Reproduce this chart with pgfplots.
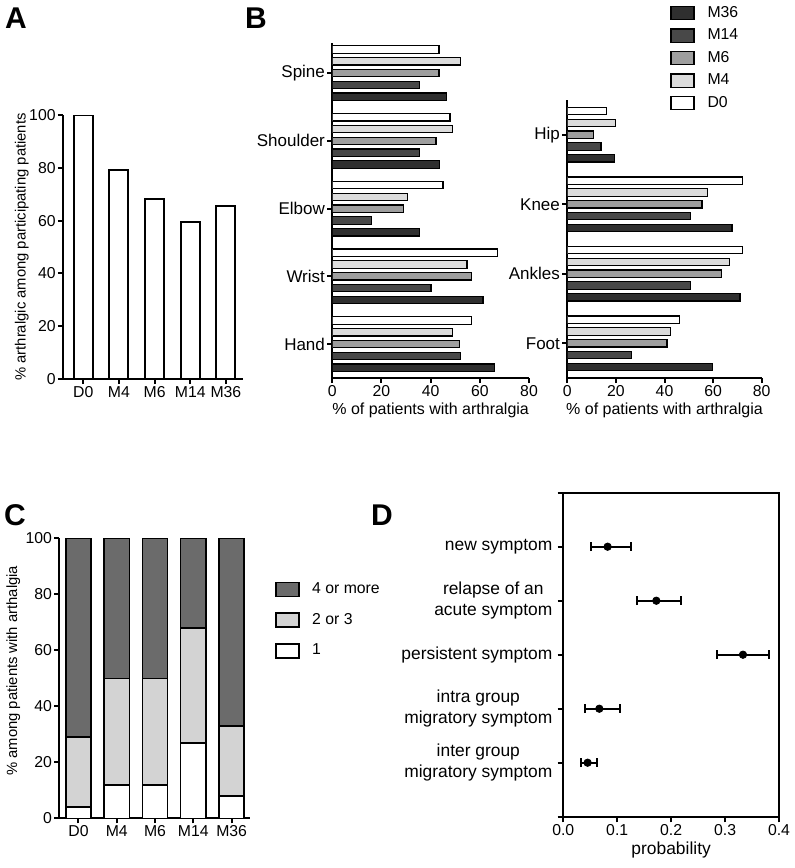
\documentclass[border=0pt]{standalone}
\usepackage{fontspec}
\setmainfont{Liberation Sans}
\usepackage{pgfplots}
\pgfplotsset{compat=1.18}
\definecolor{cM4}{HTML}{DCDCDC}
\definecolor{cM6}{HTML}{9E9E9E}
\definecolor{cM14}{HTML}{484848}
\definecolor{cM36}{HTML}{2F2F2F}
\definecolor{cFour}{HTML}{6B6B6B}
\definecolor{cTwo}{HTML}{D3D3D3}
\newcommand\fTick{\fontsize{7.9}{9}\selectfont}
\newcommand\fCat{\fontsize{8.5}{10}\selectfont}
\newcommand\fBx{\fontsize{8}{10}\selectfont}
\newcommand\fLeg{\fontsize{7.9}{9}\selectfont}
\newcommand\fLab{\fontsize{7.4}{9}\selectfont}
\newcommand\fD{\fontsize{8.7}{10.3}\selectfont}
\newcommand\fLet{\fontsize{15}{17}\selectfont\bfseries}
\pgfplotsset{
  prism/.style={
    scale only axis, anchor=south west,
    /pgf/number format/assume math mode=true,
    axis line style={line width=1pt, black},
    tick style={line width=1pt, black},
    tick align=outside, major tick length=2.5pt,
    ticklabel style={font=\fTick, inner sep=1pt},
    label style={font=\fLab},
  }
}
\begin{document}
\begin{tikzpicture}
\useasboundingbox (0,0) rectangle (397pt,-434pt);
% panel letters
\node[font=\fLet] at (8pt,-9pt) {A};
\node[font=\fLet] at (128pt,-9pt) {B};
\node[font=\fLet] at (7.5pt,-257.5pt) {C};
\node[font=\fLet] at (191pt,-257.5pt) {D};

% ---------- A ----------
\begin{axis}[prism, at={(31.5pt,-189.5pt)}, width=90pt, height=132pt,
  axis lines*=left, ymin=0, ymax=100, xmin=-0.57, xmax=4.48,
  xtick={0,...,4}, xticklabels={D0,M4,M6,M14,M36}, ytick={0,20,...,100},
  ybar, bar width=9.5pt,
  ylabel={\% arthralgic among participating patients},
  ylabel style={at={(axis description cs:-0.229,0.5)}, anchor=center}]
\addplot[fill=white, draw=black, line width=1pt] coordinates {(0,100) (1,79.2) (2,68.1) (3,59.3) (4,65.4)};
\end{axis}

% ---------- B left ----------
\begin{axis}[prism, at={(166.15pt,-189pt)}, width=98.35pt, height=167.65pt,
  axis lines*=left, xmin=0, xmax=80, ymin=-0.5, ymax=4.45,
  xtick={0,20,...,80}, ytick={0,...,4},
  yticklabels={Hand,Wrist,Elbow,Shoulder,Spine},
  yticklabel style={font=\fCat},
  xbar, bar width=3.7pt,
  xlabel={\% of patients with arthralgia}, xlabel style={font=\fBx, yshift=1.5pt}]
\addplot[bar shift=11.8pt, fill=white, draw=black, line width=0.6pt] coordinates {(56.7,0) (67.1,1) (45.0,2) (47.9,3) (43.4,4)};
\addplot[bar shift=5.9pt, fill=cM4, draw=black, line width=0.6pt] coordinates {(48.9,0) (54.8,1) (30.5,2) (48.9,3) (52.1,4)};
\addplot[bar shift=0pt, fill=cM6, draw=black, line width=0.6pt] coordinates {(51.8,0) (56.7,1) (28.9,2) (42.2,3) (43.4,4)};
\addplot[bar shift=-5.9pt, fill=cM14, draw=black, line width=0.6pt] coordinates {(52.2,0) (40.1,1) (16.0,2) (35.5,3) (35.5,4)};
\addplot[bar shift=-11.8pt, fill=cM36, draw=black, line width=0.6pt] coordinates {(66.0,0) (61.3,1) (35.5,2) (43.5,3) (46.6,4)};
\end{axis}

% ---------- B right ----------
\begin{axis}[prism, at={(283.65pt,-189pt)}, width=97.2pt, height=139pt,
  axis lines*=left, xmin=0, xmax=80, ymin=-0.5, ymax=3.5,
  xtick={0,20,...,80}, ytick={0,...,3},
  yticklabels={Foot,Ankles,Knee,Hip},
  yticklabel style={font=\fCat},
  xbar, bar width=3.7pt,
  xlabel={\% of patients with arthralgia}, xlabel style={font=\fBx, yshift=1.5pt},
  reverse legend,
  legend image code/.code={\draw[#1,draw=black,line width=0.6pt] (0pt,-3.3pt) rectangle (11.5pt,3.3pt); \path[draw=none,fill=none] (11.5pt,0pt) -- (16.3pt,0pt);},
  legend style={at={(0.528,1.354)}, anchor=north west, draw=none, fill=none,
    inner sep=0pt, font=\fLeg, row sep=0.3pt, legend cell align=left}]
\addplot[bar shift=11.8pt, fill=white, draw=black, line width=0.6pt] coordinates {(46.1,0) (72.2,1) (72.2,2) (16.2,3)};
\addplot[bar shift=5.9pt, fill=cM4, draw=black, line width=0.6pt] coordinates {(42.3,0) (66.7,1) (57.8,2) (19.8,3)};
\addplot[bar shift=0pt, fill=cM6, draw=black, line width=0.6pt] coordinates {(41.0,0) (63.5,1) (55.4,2) (10.8,3)};
\addplot[bar shift=-5.9pt, fill=cM14, draw=black, line width=0.6pt] coordinates {(26.5,0) (50.8,1) (50.8,2) (13.9,3)};
\addplot[bar shift=-11.8pt, fill=cM36, draw=black, line width=0.6pt] coordinates {(59.8,0) (71.1,1) (67.8,2) (19.3,3)};
\legend{D0,M4,M6,M14,M36}
\end{axis}

% ---------- C ----------
\begin{axis}[prism, at={(29.65pt,-409.15pt)}, width=95.35pt, height=140pt,
  axis lines*=left, ymin=0, ymax=100, xmin=-0.5, xmax=4.48,
  xtick={0,...,4}, xticklabels={D0,M4,M6,M14,M36}, ytick={0,20,...,100},
  ybar stacked, bar width=12.65pt,
  ylabel={\% among patients with arthalgia},
  ylabel style={at={(axis description cs:-0.241,0.527)}, anchor=center},
  reverse legend,
  legend image code/.code={\draw[#1,draw=black,line width=0.8pt] (0pt,-3.5pt) rectangle (11.35pt,3.5pt); \path[draw=none,fill=none] (11.35pt,0pt) -- (16pt,0pt);},
  legend style={at={(1.131,0.858)}, anchor=north west, draw=none, fill=none,
    inner sep=0pt, font=\fLeg, row sep=4.4pt, legend cell align=left}]
\addplot[fill=white, draw=black, line width=0.8pt] coordinates {(0,4) (1,12) (2,12) (3,27) (4,8)};
\addplot[fill=cTwo, draw=black, line width=0.8pt] coordinates {(0,25) (1,38) (2,38) (3,41) (4,25)};
\addplot[fill=cFour, draw=black, line width=0.8pt] coordinates {(0,71) (1,50) (2,50) (3,32) (4,67)};
\legend{1,2 or 3,4 or more}
\end{axis}

% ---------- D ----------
\begin{axis}[prism, at={(281.65pt,-408.35pt)}, width=107.85pt, height=162pt,
  xmin=0, xmax=0.4, ymin=-1, ymax=5,
  xtick={0,0.1,0.2,0.3,0.4}, xtick pos=bottom, ytick pos=left,
  major tick length=2.8pt,
  xticklabel style={/pgf/number format/.cd, fixed, fixed zerofill, precision=1},
  ytick={0,...,4},
  yticklabels={{inter group\\migratory symptom},{intra group\\migratory symptom},{persistent symptom},{relapse of an\\acute symptom},{new symptom}},
  yticklabel style={font=\fD, align=center, inner sep=2.5pt},
  extra y ticks={-1,5}, extra y tick labels={},
  xlabel={probability}, xlabel style={font=\fD, yshift=1.5pt}]
\addplot[only marks, mark=*, mark size=1.85pt, black,
  error bars/.cd, x dir=both, x explicit,
  error bar style={line width=1pt},
  error mark options={rotate=90, mark size=2.25pt, line width=1pt}]
  coordinates {
  (0.0822,4) += (0.0427,0) -= (0.0303,0)
  (0.1725,3) += (0.0451,0) -= (0.0365,0)
  (0.3332,2) += (0.0483,0) -= (0.0482,0)
  (0.0668,1) += (0.0389,0) -= (0.0260,0)
  (0.0451,0) += (0.0167,0) -= (0.0130,0)
  };
\end{axis}
\end{tikzpicture}
\end{document}
